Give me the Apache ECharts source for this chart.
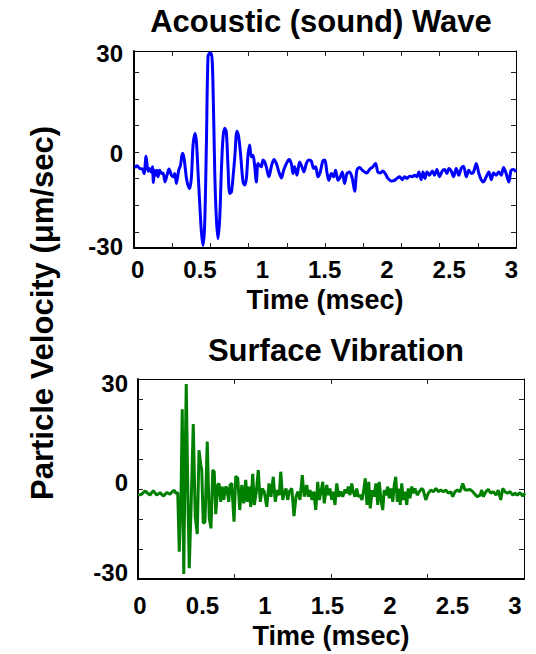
<!DOCTYPE html>
<html><head><meta charset="utf-8">
<script src="https://cdn.jsdelivr.net/npm/echarts@6/dist/echarts.min.js"></script>
<style>html,body{margin:0;padding:0;background:#fff}#c{width:536px;height:654px}</style>
</head><body><div id="c"></div>
<script>
// ---- data (time in msec, particle velocity in um/sec) ----
const acousticTime = [-0.024,-0.006,0.016,0.038,0.051,0.067,0.083,0.096,0.110,0.118,
0.126,0.134,0.144,0.155,0.163,0.176,0.190,0.203,0.219,0.235,
0.251,0.270,0.283,0.297,0.310,0.329,0.343,0.359,0.371,0.391,
0.403,0.417,0.431,0.444,0.460,0.471,0.484,0.497,0.511,0.524,
0.537,0.551,0.564,0.578,0.591,0.604,0.618,0.631,0.644,0.658,
0.671,0.684,0.698,0.711,0.724,0.738,0.752,0.764,0.780,0.796,
0.810,0.826,0.845,0.858,0.872,0.885,0.898,0.912,0.925,0.938,
0.952,0.965,0.979,0.992,1.005,1.019,1.032,1.053,1.072,1.093,
1.113,1.133,1.153,1.171,1.193,1.214,1.233,1.246,1.259,1.278,
1.299,1.318,1.334,1.353,1.374,1.393,1.412,1.428,1.446,1.465,
1.486,1.502,1.518,1.534,1.554,1.572,1.588,1.607,1.626,1.642,
1.660,1.679,1.700,1.722,1.741,1.759,1.781,1.802,1.821,1.839,
1.861,1.887,1.909,1.927,1.947,1.968,1.989,2.008,2.035,2.061,
2.080,2.102,2.123,2.142,2.160,2.182,2.203,2.222,2.240,2.256,
2.275,2.289,2.305,2.321,2.342,2.364,2.382,2.401,2.422,2.444,
2.462,2.481,2.497,2.516,2.535,2.556,2.577,2.596,2.615,2.637,
2.657,2.677,2.695,2.717,2.738,2.757,2.775,2.797,2.818,2.837,
2.856,2.877,2.898,2.917,2.936,2.957,2.978,2.997,3.016,3.037];
const acousticVel = [-5.5,-4.9,-5.7,-5.9,-7.3,-1.9,-6.6,-5.7,-7.0,-5.2,
-10.1,-6.25,-7.8,-6.25,-8.3,-6.25,-7.3,-7.1,-9.9,-7.8,
-5.9,-7.8,-8.3,-7.3,-10.4,-6.25,-4.7,-1.0,-2.4,-8.8,
-10.9,-12.0,-8.3,1.6,5.2,2.6,-6.8,-16.2,-25.5,-29.7,
-23.4,1.6,29.2,30.2,30.2,20.3,-6.8,-21.3,-27.6,-21.3,
-6.8,3.7,6.8,5.7,-4.7,-13.5,-13.0,-8.8,-1.6,5.9,
4.2,-1.6,-9.9,-10.9,-8.8,-1.6,1.6,-2.1,-1.6,-4.7,
-9.9,-4.2,-4.7,-5.2,-3.1,-3.7,-5.2,-8.3,-5.2,-2.9,
-4.2,-6.8,-8.7,-6.25,-4.2,-2.9,-4.2,-7.3,-5.2,-7.8,
-3.7,-5.2,-6.8,-4.2,-3.1,-3.4,-5.7,-5.2,-8.3,-6.8,
-3.3,-3.1,-6.8,-9.4,-7.3,-8.3,-6.25,-9.4,-8.3,-6.8,
-10.4,-7.3,-6.8,-8.8,-12.8,-6.25,-5.4,-6.25,-6.8,-7.1,
-6.0,-5.2,-4.2,-6.8,-7.1,-6.5,-7.5,-8.8,-9.6,-9.4,
-8.8,-8.3,-9.2,-8.3,-8.8,-8.1,-8.3,-7.8,-8.3,-6.8,
-9.2,-6.8,-8.8,-6.8,-7.8,-6.5,-7.8,-6.0,-8.3,-6.5,
-6.0,-7.3,-5.7,-6.5,-8.3,-5.7,-7.8,-5.7,-5.0,-8.3,
-6.25,-7.3,-6.8,-4.2,-7.3,-9.2,-9.9,-8.3,-6.8,-9.2,
-7.1,-7.8,-6.8,-7.8,-5.4,-7.3,-9.9,-6.25,-6.0,-6.8];

const surfaceTime = [-0.014,0.014,0.040,0.062,0.080,0.106,0.134,0.160,0.186,0.214,
0.240,0.258,0.274,0.286,0.302,0.314,0.328,0.338,0.350,0.360,
0.370,0.384,0.394,0.408,0.426,0.442,0.458,0.472,0.486,0.494,
0.506,0.520,0.538,0.554,0.568,0.582,0.594,0.606,0.622,0.632,
0.646,0.658,0.670,0.686,0.696,0.710,0.720,0.734,0.752,0.766,
0.782,0.798,0.814,0.830,0.846,0.858,0.872,0.886,0.902,0.914,
0.930,0.946,0.962,0.978,0.994,
1.014,1.032,1.048,1.066,1.082,1.098,1.114,1.126,1.142,1.154,
1.168,1.182,1.194,1.214,1.232,1.248,1.262,1.280,1.298,1.314,
1.334,1.346,1.360,1.376,1.390,1.406,1.422,1.434,1.448,1.462,
1.474,1.494,1.506,1.520,1.534,1.546,1.560,1.574,1.590,1.606,
1.622,1.640,1.654,1.666,1.680,1.694,1.706,1.720,1.734,1.746,
1.760,1.776,1.790,1.802,1.816,1.830,1.842,1.858,1.872,1.888,
1.902,1.914,1.928,1.942,1.954,1.968,1.982,1.994,2.008,2.022,
2.034,2.046,2.058,2.072,2.082,2.094,2.106,2.120,2.134,2.146,
2.160,2.174,2.186,2.200,2.218,2.234,2.254,2.266,2.286,2.306,
2.326,2.346,2.368,2.386,2.406,2.426,2.448,2.466,2.486,2.502,
2.520,2.538,2.560,2.582,2.600,2.618,2.640,2.662,2.680,2.698,
2.720,2.734,2.746,2.768,2.786,2.806,2.826,2.848,2.866,2.886,
2.902,2.920,2.938,2.960,2.982,3.000,3.018,3.040,3.062,3.080];
const surfaceVel = [-5.4,-5.1,-4.1,-4.8,-5.4,-4.0,-5.4,-4.6,-5.7,-4.6,
-5.1,-4.3,-3.8,-4.8,-4.6,-23.3,-5.9,21.7,-30.3,2.5,
29.7,-8.0,-28.5,-10.1,17.1,-12.2,-17.7,8.8,4.4,2.5,
-14.3,-13.8,11.5,-12.7,-15.9,2.5,2.0,-11.4,-2.2,-1.7,
-7.5,-2.7,-6.9,-2.7,-3.3,-7.5,-2.2,-1.7,-13.8,0.6,
-0.1,-10.1,-2.2,-8.0,-0.6,-7.5,-2.7,-9.1,1.3,-8.5,
-4.6,2.5,-7.5,-3.3,-4.3,
-9.1,-1.7,-5.9,0.4,-7.5,-3.8,-5.4,2.0,-6.9,-4.8,
-3.3,-6.9,-4.3,-3.3,-12.0,-5.9,-4.3,-6.9,0.9,-5.9,
-2.2,-5.9,-3.8,-6.9,-4.3,-10.1,-1.2,-6.9,-4.3,-1.2,
-8.0,-2.2,-5.4,-3.3,-6.9,-4.3,-8.5,-1.7,-5.9,-4.3,
-5.9,-3.6,-4.8,-2.7,-5.4,-1.7,-4.3,-5.9,-3.3,-5.9,
-5.4,-6.9,-3.8,-0.1,-8.5,-1.2,-9.6,-3.8,-5.9,-1.7,
-8.5,-1.2,-6.9,-10.1,-3.8,-5.4,-2.7,-6.4,-3.3,-7.5,
-2.2,0.4,-7.5,-3.3,-8.5,-1.7,-6.9,-4.3,-8.5,-3.3,
-6.4,-2.7,-4.8,-3.3,-5.4,-4.3,-3.3,-3.8,-6.9,-4.8,
-3.8,-4.3,-3.3,-4.3,-3.8,-4.3,-3.8,-4.8,-4.3,-5.9,
-4.3,-3.8,-4.3,-1.7,-3.8,-3.8,-3.6,-4.3,-5.1,-5.9,
-5.4,-3.8,-5.9,-4.3,-3.6,-4.8,-4.3,-5.4,-3.8,-6.9,
-3.3,-4.3,-4.8,-4.3,-5.4,-4.8,-5.4,-4.6,-5.7,-4.8];

// ---- tick labels ----
const xTickValues = [0, 0.5, 1, 1.5, 2, 2.5, 3];
const xTickLabels = ['0', '0.5', '1', '1.5', '2', '2.5', '3'];
const yTickLabels = ['30', '0', '-30'];
const acousticYLabelAt = [30, -0.9, -30];
const surfaceYLabelAt = [30, -1.3, -30];
// minor tick marks (no labels)
const acousticXTicks = [0.277, 0.583, 0.890, 1.196, 1.503, 1.810, 2.116, 2.423, 2.729];
const acousticYTicks = [24.3, 15.9, 7.7, -0.6, -8.8, -17.2, -25.5];
const surfaceXTicks = [0.756, 1.528, 2.300];
const surfaceYTicks = [24.9, 15.5, 6.0, -3.5, -12.9, -22.4];

const FONT = 'Liberation Sans, Arial, Helvetica, sans-serif';
function pick(vals, labels) {
  return function (v) {
    let best = 0, d = Infinity;
    vals.forEach((t, i) => { const e = Math.abs(t - v); if (e < d) { d = e; best = i; } });
    return labels[best];
  };
}
const labelStyle = { color: '#000', fontSize: 24, fontWeight: 'bold', fontFamily: FONT };

function xAxes(grid, min, max, ticks, margin, nameGap) {
  return [{
    gridIndex: grid, type: 'value', min: min, max: max, position: 'bottom',
    axisLine: { show: true, onZero: false, lineStyle: { color: '#000', width: 2 } },
    axisTick: { show: true, inside: true, length: 5, customValues: ticks, lineStyle: { color: '#222', width: 1 } },
    axisLabel: Object.assign({ customValues: xTickValues, margin: margin, formatter: pick(xTickValues, xTickLabels) }, labelStyle),
    splitLine: { show: false },
    name: 'Time (msec)', nameLocation: 'middle', nameGap: nameGap,
    nameTextStyle: { color: '#000', fontSize: 27, fontWeight: 'bold', fontFamily: FONT }
  }, {
    gridIndex: grid, type: 'value', min: min, max: max, position: 'top',
    axisLine: { show: true, onZero: false, lineStyle: { color: '#000', width: 1 } },
    axisTick: { show: true, inside: true, length: 5, customValues: ticks, lineStyle: { color: '#222', width: 1 } },
    axisLabel: { show: false }, splitLine: { show: false }
  }];
}
function yAxes(grid, min, max, ticks, labelAt, margin) {
  return [{
    gridIndex: grid, type: 'value', min: min, max: max, position: 'left',
    axisLine: { show: true, onZero: false, lineStyle: { color: '#000', width: 2 } },
    axisTick: { show: true, inside: true, length: 5, customValues: ticks, lineStyle: { color: '#222', width: 1 } },
    axisLabel: Object.assign({ customValues: labelAt, margin: margin, formatter: pick(labelAt, yTickLabels) }, labelStyle),
    splitLine: { show: false }
  }, {
    gridIndex: grid, type: 'value', min: min, max: max, position: 'right',
    axisLine: { show: true, onZero: false, lineStyle: { color: '#000', width: 1 } },
    axisTick: { show: true, inside: true, length: 5, customValues: ticks, lineStyle: { color: '#222', width: 1 } },
    axisLabel: { show: false }, splitLine: { show: false }
  }];
}

const xa = xAxes(0, -0.03, 3.036, acousticXTicks, 9, 38).concat(xAxes(1, -0.016, 3.072, surfaceXTicks, 14, 43));
const ya = yAxes(0, -30.5, 30.9, acousticYTicks, acousticYLabelAt, 11).concat(yAxes(1, -31.9, 31.3, surfaceYTicks, surfaceYLabelAt, 10));

const chart = echarts.init(document.getElementById('c'), null, { renderer: 'svg' });
chart.setOption({
  backgroundColor: '#fff',
  animation: false,
  grid: [
    { left: 134, top: 51, width: 382, height: 197 },
    { left: 138, top: 379, width: 386, height: 200 }
  ],
  xAxis: xa,
  yAxis: ya,
  graphic: [
    { type: 'text', x: 321, y: 21, style: { text: 'Acoustic (sound) Wave', fill: '#000', font: 'bold 31px ' + FONT, textAlign: 'center', textVerticalAlign: 'middle' } },
    { type: 'text', x: 336, y: 350, style: { text: 'Surface Vibration', fill: '#000', font: 'bold 31px ' + FONT, textAlign: 'center', textVerticalAlign: 'middle' } },
    { type: 'text', x: 42, y: 313, rotation: Math.PI / 2, style: { text: 'Particle Velocity (\u03bcm/sec)', fill: '#000', font: 'bold 31px ' + FONT, textAlign: 'center', textVerticalAlign: 'middle' } }
  ],
  series: [
    { type: 'line', xAxisIndex: 0, yAxisIndex: 0, showSymbol: false, smooth: 0.3,
      lineStyle: { color: '#0000ff', width: 3 }, data: acousticTime.map((t, i) => [t, acousticVel[i]]) },
    { type: 'line', xAxisIndex: 2, yAxisIndex: 2, showSymbol: false,
      lineStyle: { color: '#008000', width: 3 }, data: surfaceTime.map((t, i) => [t, surfaceVel[i]]) }
  ]
});
</script></body></html>
